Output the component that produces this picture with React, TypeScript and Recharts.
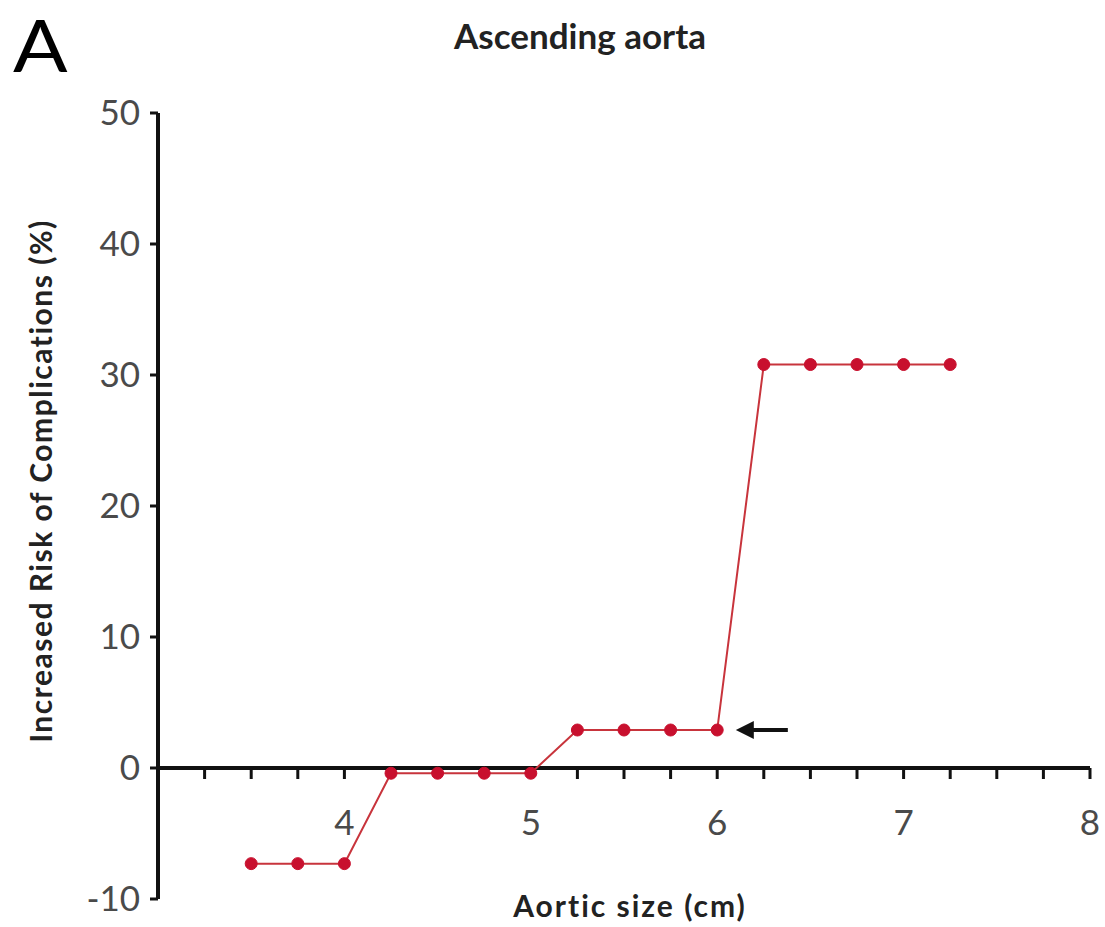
import {
  LineChart,
  Line,
  XAxis,
  YAxis,
  ReferenceLine,
  ReferenceDot,
} from "recharts";

// aortic size (cm) and increased risk (%)
const aorticSize = [3.5, 3.75, 4, 4.25, 4.5, 4.75, 5, 5.25, 5.5, 5.75, 6, 6.25, 6.5, 6.75, 7, 7.25];
const riskIncrease = [-7.3, -7.3, -7.3, -0.4, -0.4, -0.4, -0.4, 2.9, 2.9, 2.9, 2.9, 30.8, 30.8, 30.8, 30.8, 30.8];

const yTicks = [-10, 0, 10, 20, 30, 40, 50];
const xTicks = [3.25, 3.5, 3.75, 4, 4.25, 4.5, 4.75, 5, 5.25, 5.5, 5.75, 6, 6.25, 6.5, 6.75, 7, 7.25, 7.5, 7.75, 8];
const xLabels = [4, 5, 6, 7, 8];

// arrow points at the 6 cm threshold
const arrowAt = { x: 6.1, y: 2.9 };

const data = aorticSize.map((size, i) => ({
  size,
  risk: riskIncrease[i],
}));

const FONT = "Lato, 'Open Sans', sans-serif";

const XTick = (value: number) => (props: any) => {
  const { cx, cy } = props;
  const labelled = xLabels.includes(value);
  return (
    <g>
      <line x1={cx} y1={cy} x2={cx} y2={cy + 11} stroke="#111" strokeWidth={3} />
      {labelled && (
        <text
          x={cx}
          y={cy + 67}
          textAnchor="middle"
          fontSize={35}
          fontFamily={FONT}
          fill="#4a4a4a"
        >
          {value}
        </text>
      )}
    </g>
  );
};

const Arrow = (props: any) => {
  const { cx, cy } = props;
  return (
    <g>
      <path d={`M${cx},${cy} l18,-9 l0,18 z`} fill="#111" />
      <line x1={cx + 14} y1={cy} x2={cx + 52} y2={cy} stroke="#111" strokeWidth={4} />
    </g>
  );
};

const App = () => {
  return (
    <div
      style={{
        position: "absolute",
        left: 0,
        top: 0,
        width: 1105,
        height: 927,
        background: "#fff",
        fontFamily: FONT,
      }}
    >
      {/* panel letter */}
      <div
        style={{
          position: "absolute",
          left: 13,
          top: 1,
          fontSize: 72,
          lineHeight: 1.2,
          color: "#000",
          transform: "scaleX(1.12)",
          transformOrigin: "left top",
        }}
      >
        A
      </div>

      {/* title */}
      <div
        style={{
          position: "absolute",
          left: 380,
          width: 400,
          top: 11,
          textAlign: "center",
          fontSize: 35,
          fontWeight: 700,
          lineHeight: "48px",
          color: "#222",
        }}
      >
        Ascending aorta
      </div>

      {/* y axis title */}
      <div
        style={{
          position: "absolute",
          left: 40 - 300,
          top: 481 - 18,
          width: 600,
          height: 36,
          lineHeight: "36px",
          textAlign: "center",
          transform: "rotate(-90deg)",
          fontSize: 30,
          letterSpacing: 1.5,
          fontWeight: 700,
          color: "#222",
        }}
      >
        Increased Risk of Complications (%)
      </div>

      {/* x axis title */}
      <div
        style={{
          position: "absolute",
          left: 430,
          width: 400,
          top: 887,
          textAlign: "center",
          fontSize: 30,
          letterSpacing: 2,
          fontWeight: 700,
          lineHeight: "36px",
          color: "#222",
        }}
      >
        Aortic size (cm)
      </div>

      <div style={{ position: "absolute", left: 0, top: 0 }}>
        <LineChart
          width={1105}
          height={927}
          data={data}
          margin={{ top: 113, right: 15, bottom: 28, left: 58 }}
        >
          <XAxis
            dataKey="size"
            type="number"
            domain={[3, 8]}
            hide
          />

          <YAxis
            type="number"
            domain={[-10, 50]}
            ticks={yTicks}
            width={100}
            tickSize={8}
            tickMargin={10}
            axisLine={{ stroke: "#111", strokeWidth: 4 }}
            tickLine={{ stroke: "#111", strokeWidth: 3 }}
            tick={{ fill: "#4a4a4a", fontSize: 35, fontFamily: FONT }}
          />

          <ReferenceLine y={0} stroke="#111" strokeWidth={4} />

          {xTicks.map((t) => (
            <ReferenceDot
              key={t}
              x={t}
              y={0}
              r={0}
              shape={XTick(t)}
            />
          ))}

          <ReferenceDot x={arrowAt.x} y={arrowAt.y} r={0} shape={Arrow} />

          <Line
            type="linear"
            dataKey="risk"
            stroke="#c8343c"
            strokeWidth={2}
            dot={{ r: 6, fill: "#c8102e", stroke: "#c8102e", strokeWidth: 1 }}
            isAnimationActive={false}
          />
        </LineChart>
      </div>
    </div>
  );
};

export default App;
